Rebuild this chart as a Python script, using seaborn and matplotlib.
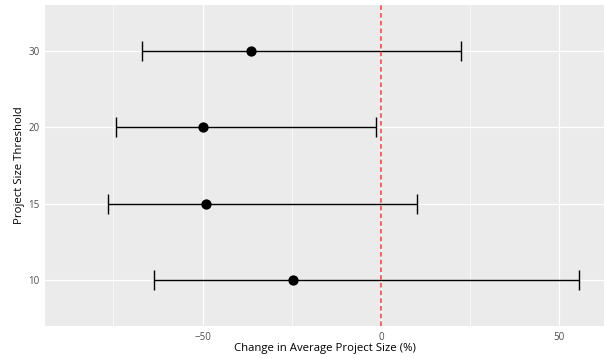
import matplotlib
matplotlib.use("Agg")
import matplotlib.pyplot as plt
import matplotlib.ticker as ticker
import pandas as pd
import seaborn as sns

# Datos.
umbrales = ["10", "15", "20", "30"]
cambio_medio = [-24.8, -49.2, -49.8, -36.4]
ic_inferior = [-63.6, -76.6, -74.4, -67.0]
ic_superior = [55.4, 10.0, -1.5, 22.4]
x_ticks = [-50, 0, 50]

df = pd.DataFrame({
    "umbral": umbrales,
    "cambio": cambio_medio,
    "inf": ic_inferior,
    "sup": ic_superior,
})

sns.set_theme(style="darkgrid", rc={
    "axes.facecolor": "#EBEBEB",
    "grid.color": "white",
    "axes.edgecolor": "#EBEBEB",
})
plt.rcParams["font.family"] = ["Open Sans", "DejaVu Sans"]

Figure = plt.figure(figsize=(6.05, 3.58), dpi=100)
ax = Figure.add_axes([45 / 605, 32 / 358, 559 / 605, 321 / 358])

# Barras de error horizontales.
ax.errorbar(df["cambio"], df["umbral"],
            xerr=[df["cambio"] - df["inf"], df["sup"] - df["cambio"]],
            fmt="none", ecolor="black", elinewidth=1.0, capsize=7.5,
            capthick=1.0, zorder=3)

# Puntos.
sns.scatterplot(data=df, x="cambio", y="umbral", ax=ax, color="black",
                s=55, edgecolor="black", linewidth=0, zorder=4)

# Línea de referencia en cero.
ax.axvline(0, color="#F25050", alpha=0.85, linewidth=1.5,
           dashes=(2.2, 1.5), zorder=5)

ax.set_xlim(-94.2, 62.5)
ax.set_ylim(-0.6, 3.6)
ax.set_xticks(x_ticks)
ax.xaxis.set_minor_locator(ticker.FixedLocator([-75, -25, 25]))
ax.grid(which="major", color="white", linewidth=0.9)
ax.grid(which="minor", axis="x", color="white", linewidth=0.45)

ax.tick_params(axis="both", which="major", length=3, width=0.8, color="#333333",
               labelsize=7, labelcolor="#4D4D4D", pad=1)
ax.tick_params(axis="both", which="minor", length=0)
for s in ax.spines.values():
    s.set_visible(False)

ax.set_xlabel("Change in Average Project Size (%)", fontsize=8.2, color="black", labelpad=0)
ax.set_ylabel("Project Size Threshold", fontsize=8.2, color="black", labelpad=2)

plt.savefig("out.png", dpi=100)
